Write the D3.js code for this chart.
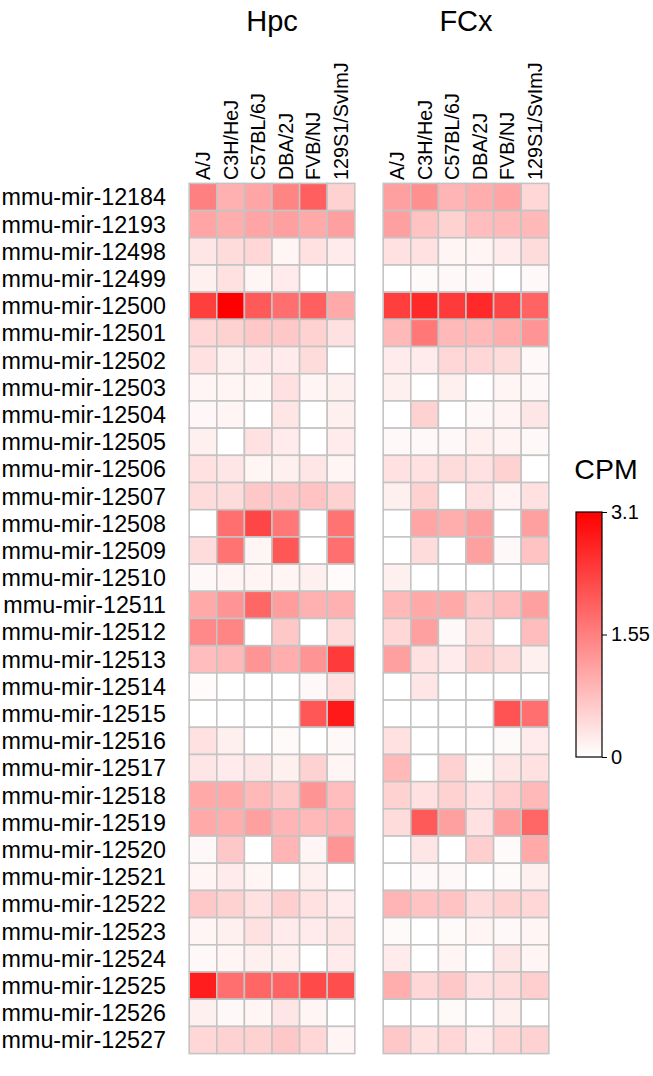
<!DOCTYPE html>
<html>
<head>
<meta charset="utf-8">
<script src="https://cdn.jsdelivr.net/npm/d3@7"></script>
<style>
  body { margin: 0; background: #fff; }
  text { font-family: "Liberation Sans", Arial, Helvetica, sans-serif; fill: #000; }
</style>
</head>
<body>
<div id="chart"></div>
<script>
var mirnas = ["mmu-mir-12184", "mmu-mir-12193", "mmu-mir-12498", "mmu-mir-12499", "mmu-mir-12500",
  "mmu-mir-12501", "mmu-mir-12502", "mmu-mir-12503", "mmu-mir-12504", "mmu-mir-12505",
  "mmu-mir-12506", "mmu-mir-12507", "mmu-mir-12508", "mmu-mir-12509", "mmu-mir-12510",
  "mmu-mir-12511", "mmu-mir-12512", "mmu-mir-12513", "mmu-mir-12514", "mmu-mir-12515",
  "mmu-mir-12516", "mmu-mir-12517", "mmu-mir-12518", "mmu-mir-12519", "mmu-mir-12520",
  "mmu-mir-12521", "mmu-mir-12522", "mmu-mir-12523", "mmu-mir-12524", "mmu-mir-12525",
  "mmu-mir-12526", "mmu-mir-12527"];

var strains = ["A/J", "C3H/HeJ", "C57BL/6J", "DBA/2J", "FVB/NJ", "129S1/SvImJ"];

var regions = ["Hpc", "FCx"];

// CPM per miRNA (rows) and strain (columns)
var hpcValues = [
  [1.55, 0.95, 1.1, 1.5, 1.95, 0.55],
  [1.1, 1.0, 1.1, 1.15, 1.05, 1.15],
  [0.3, 0.43, 0.49, 0.12, 0.37, 0.24],
  [0.18, 0.37, 0.12, 0.24, 0, 0],
  [2.35, 3.1, 2.0, 1.75, 1.95, 1.05],
  [0.49, 0.55, 0.67, 0.67, 0.55, 0.37],
  [0.37, 0.18, 0.24, 0.24, 0.43, 0],
  [0.12, 0.12, 0.12, 0.37, 0.12, 0.18],
  [0.1, 0.12, 0, 0.3, 0, 0.18],
  [0.18, 0, 0.37, 0.24, 0, 0.24],
  [0.37, 0.3, 0.12, 0.18, 0.3, 0.12],
  [0.43, 0.43, 0.67, 0.67, 0.73, 0.55],
  [0, 1.75, 2.25, 1.65, 0, 1.7],
  [0.43, 1.7, 0.12, 2.05, 0, 1.75],
  [0.08, 0.12, 0.12, 0.12, 0.18, 0.05],
  [1.05, 1.3, 1.85, 1.2, 0.95, 0.95],
  [1.45, 1.5, 0, 0.67, 0, 0.43],
  [0.8, 0.85, 1.3, 1.0, 1.3, 2.4],
  [0.05, 0, 0, 0, 0.08, 0.37],
  [0, 0, 0, 0, 2.05, 2.8],
  [0.37, 0.18, 0, 0.06, 0, 0.08],
  [0.3, 0.24, 0.3, 0.18, 0.55, 0.12],
  [1.05, 1.05, 0.85, 0.67, 1.3, 0.8],
  [1.05, 1.0, 1.15, 0.9, 0.85, 0.9],
  [0.08, 0.67, 0, 0.9, 0.12, 1.3],
  [0.12, 0.24, 0.12, 0, 0.18, 0],
  [0.67, 0.55, 0.37, 0.6, 0.37, 0.24],
  [0.12, 0.18, 0.37, 0.24, 0.24, 0.3],
  [0.08, 0.12, 0.18, 0.18, 0, 0.24],
  [2.75, 1.75, 1.85, 1.9, 2.2, 2.15],
  [0.18, 0.08, 0.12, 0.3, 0.12, 0],
  [0.49, 0.55, 0.55, 0.67, 0.49, 0.12]
];

var fcxValues = [
  [1.15, 1.35, 0.9, 1.0, 1.1, 0.49],
  [1.15, 0.73, 0.55, 0.8, 0.85, 0.85],
  [0.37, 0.37, 0.12, 0.12, 0.24, 0.43],
  [0, 0.06, 0.08, 0.08, 0, 0.08],
  [2.35, 2.6, 2.4, 2.6, 2.25, 1.9],
  [0.85, 1.65, 0.85, 0.85, 1.0, 1.3],
  [0.24, 0.24, 0.49, 0.49, 0.43, 0.08],
  [0.18, 0, 0.18, 0, 0.12, 0.08],
  [0, 0.55, 0, 0.08, 0.15, 0.3],
  [0.08, 0.08, 0.08, 0.2, 0.15, 0.08],
  [0.37, 0.37, 0.43, 0.37, 0.55, 0],
  [0.18, 0.55, 0, 0.37, 0.15, 0.37],
  [0, 1.1, 1.0, 1.15, 0, 1.15],
  [0, 0.43, 0, 1.15, 0.08, 0.73],
  [0.18, 0, 0, 0, 0, 0],
  [0.85, 1.05, 1.05, 0.67, 0.8, 1.15],
  [0.49, 1.15, 0.08, 0.43, 0, 0.8],
  [1.15, 0.37, 0.24, 0.55, 0.43, 0.18],
  [0, 0.3, 0, 0, 0, 0],
  [0, 0, 0, 0, 2.1, 1.75],
  [0.37, 0, 0, 0, 0.06, 0.24],
  [0.85, 0, 0.55, 0.06, 0.3, 0.37],
  [0.55, 0.37, 0.55, 0.37, 0.6, 0.85],
  [0.43, 2.0, 1.15, 0.37, 1.15, 1.85],
  [0, 0.3, 0, 0.6, 0.06, 1.05],
  [0, 0.08, 0.08, 0, 0.06, 0.18],
  [0.9, 0.73, 0.73, 0.43, 0.55, 0.49],
  [0.06, 0, 0.06, 0.12, 0.08, 0.12],
  [0.24, 0, 0.12, 0, 0.3, 0.12],
  [1.0, 0.49, 0.67, 0.37, 0.43, 0.6],
  [0, 0, 0.06, 0, 0.18, 0],
  [0.67, 0.37, 0.49, 0.24, 0.49, 0.55]
];

var legendTicks = [0, 1.55, 3.1];

var width = 653, height = 1076;
var gridTop = 183.4, gridBottom = 1053.6;
var panelX = [189.2, 383.2];
var panelW = 165.6;

var svg = d3.select("#chart").append("svg")
  .attr("width", width)
  .attr("height", height);

var yscale = d3.scaleBand().domain(mirnas).range([gridTop, gridBottom]).padding(0);
var color = d3.scaleLinear().domain([0, 3.1]).range(["#ffffff", "#ff0000"]).clamp(true);

// row labels
svg.append("g").selectAll("text")
  .data(mirnas)
  .join("text")
  .attr("x", 166)
  .attr("y", d => yscale(d) + yscale.bandwidth() / 2)
  .attr("dy", "0.36em")
  .attr("text-anchor", "end")
  .style("font-size", "23.3px")
  .text(d => d);

[hpcValues, fcxValues].forEach(function(values, p) {
  var xscale = d3.scaleBand().domain(strains).range([panelX[p], panelX[p] + panelW]).padding(0);
  var g = svg.append("g");

  var cells = [];
  values.forEach(function(row, i) {
    row.forEach(function(v, j) {
      cells.push({ mir: mirnas[i], strain: strains[j], value: v });
    });
  });

  g.selectAll("rect")
    .data(cells)
    .join("rect")
    .attr("x", d => xscale(d.strain))
    .attr("y", d => yscale(d.mir))
    .attr("width", xscale.bandwidth())
    .attr("height", yscale.bandwidth())
    .attr("fill", d => color(d.value))
    .attr("stroke", "#c4c4c4")
    .attr("stroke-width", 1.6);

  // column labels (rotated)
  g.selectAll(".colLabel")
    .data(strains)
    .join("text")
    .attr("class", "colLabel")
    .attr("transform", d => `translate(${xscale(d) + xscale.bandwidth() / 2 + 7},180) rotate(-90)`)
    .style("font-size", "19.8px")
    .text(d => d);

  // panel title
  g.append("text")
    .attr("x", panelX[p] + panelW / 2)
    .attr("y", 31)
    .attr("text-anchor", "middle")
    .style("font-size", "29px")
    .text(regions[p]);
});

// colour legend
var legX = 576, legW = 26, legTop = 512, legBottom = 757;
var lscale = d3.scaleLinear().domain([0, 3.1]).range([legBottom, legTop]);

var defs = svg.append("defs");
var grad = defs.append("linearGradient")
  .attr("id", "cpmGrad")
  .attr("x1", 0).attr("y1", 1).attr("x2", 0).attr("y2", 0);
grad.append("stop").attr("offset", "0%").attr("stop-color", color(0));
grad.append("stop").attr("offset", "100%").attr("stop-color", color(3.1));

svg.append("rect")
  .attr("x", legX)
  .attr("y", legTop)
  .attr("width", legW)
  .attr("height", legBottom - legTop)
  .attr("fill", "url(#cpmGrad)")
  .attr("stroke", "#000")
  .attr("stroke-width", 1.2);

var laxis = svg.append("g")
  .attr("transform", `translate(${legX + legW},0)`)
  .call(d3.axisRight(lscale).tickValues(legendTicks).tickSize(5).tickFormat(d => d));
laxis.select(".domain").remove();
laxis.selectAll("text").style("font-size", "20px").attr("x", 9);
laxis.selectAll("line").attr("stroke", "#000");

svg.append("text")
  .attr("x", 606)
  .attr("y", 479)
  .attr("text-anchor", "middle")
  .style("font-size", "28.5px")
  .text("CPM");
</script>
</body>
</html>
